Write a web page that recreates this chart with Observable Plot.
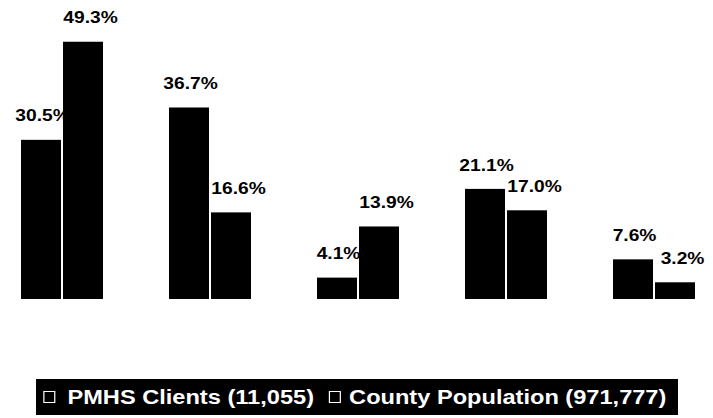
<!DOCTYPE html>
<html>
<head>
<meta charset="utf-8">
<script src="https://cdn.jsdelivr.net/npm/d3@7"></script>
<script src="https://cdn.jsdelivr.net/npm/@observablehq/plot@0.6"></script>
<style>
  html, body { margin: 0; padding: 0; background: #fff; }
  #wrap { position: relative; width: 713px; height: 418px; }
  #chart svg { display: block; }
  #legend {
    position: absolute; left: 36px; top: 379px; width: 642px; height: 36px;
    background: #000; overflow: hidden;
  }
  #legend .inner {
    height: 36px; padding-left: 6px;
    color: #fff; font: bold 19.5px "Liberation Sans", Arial, sans-serif;
    display: flex; align-items: center; white-space: nowrap;
    transform: scaleX(1.21); transform-origin: left center;
  }
  #legend .sw {
    display: inline-block; width: 8px; height: 10px; border: 1px solid #fff;
    margin-right: 10px;
  }
  #legend .item { display: inline-flex; align-items: center; margin-right: 12px; }
  #legend .item + .item .sw { margin-right: 7px; }
</style>
</head>
<body>
<div id="wrap">
  <div id="chart"></div>
  <div id="legend"><div class="inner"></div></div>
</div>
<script>
// Five categories, two series (share of each population, %)
const groups = ["A", "B", "C", "D", "E"];
const seriesNames = ["PMHS Clients (11,055)", "County Population (971,777)"];
const clients = [30.5, 36.7, 4.1, 21.1, 7.6];
const county = [49.3, 16.6, 13.9, 17.0, 3.2];

const data = groups.flatMap((g, i) => [
  {group: g, series: seriesNames[0], value: clients[i]},
  {group: g, series: seriesNames[1], value: county[i]}
]);

const label = d => d.value.toFixed(1) + "%";
const labelStyle = {
  x: "series", y: "value", text: label, dy: -24,
  fontSize: 16, fontWeight: "bold", fontFamily: "Liberation Sans, Arial, sans-serif", fill: "#000"
};
const isFirst = d => d.series === seriesNames[0];
const isSecond = d => d.series === seriesNames[1];

// Each series' labels are drawn right after its bars, so a neighbouring bar can overlap a label
const chart = Plot.plot({
  width: 713,
  height: 379,
  marginLeft: 19,
  marginRight: 17,
  marginTop: 12,
  marginBottom: 80,
  facet: {data, x: "group"},
  fx: {domain: groups, paddingInner: 0.44, paddingOuter: 0, axis: null},
  x: {domain: seriesNames, paddingInner: 0.05, paddingOuter: 0, axis: null},
  y: {domain: [0, 55], axis: null},
  marks: [
    Plot.barY(data, {x: "series", y: "value", fill: "#000", filter: isFirst}),
    Plot.text(data, {...labelStyle, filter: isFirst, dx: 1}),
    Plot.barY(data, {x: "series", y: "value", fill: "#000", filter: isSecond}),
    Plot.text(data, {...labelStyle, filter: isSecond, dx: 7})
  ]
});

// Widen the value labels horizontally around their anchor point
d3.select(chart).selectAll("text").each(function () {
  const t = this.getAttribute("transform");
  if (t) {
    this.setAttribute("transform", t + " scale(1.2,1)");
  } else {
    const x = +this.getAttribute("x") || 0, y = +this.getAttribute("y") || 0;
    this.setAttribute("x", 0);
    this.setAttribute("y", 0);
    this.setAttribute("transform", `translate(${x},${y}) scale(1.2,1)`);
  }
});
document.getElementById("chart").appendChild(chart);

// Legend strip below the plot
const legend = document.querySelector("#legend .inner");
seriesNames.forEach(name => {
  const item = document.createElement("span");
  item.className = "item";
  const sw = document.createElement("span");
  sw.className = "sw";
  item.appendChild(sw);
  item.appendChild(document.createTextNode(name));
  legend.appendChild(item);
});
</script>
</body>
</html>
